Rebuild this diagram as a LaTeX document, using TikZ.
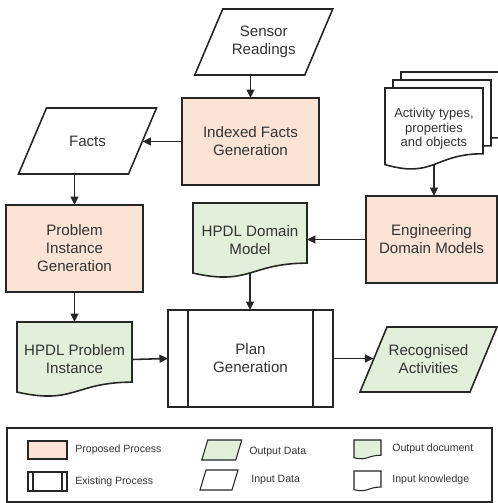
\documentclass[tikz,border=0pt]{standalone}
\usepackage{fontspec}
\setmainfont{Liberation Sans}
\usetikzlibrary{arrows.meta,calc,backgrounds}

\definecolor{procfill}{HTML}{FBE3D6}
\definecolor{datafill}{HTML}{E2EFDA}
\definecolor{inkline}{HTML}{262626}
\definecolor{inktext}{HTML}{333333}

\tikzset{
  base/.style={draw=inkline, line width=0.9pt, inner sep=1pt, outer sep=0pt,
    text=inktext, align=center, font=\fontsize{8.6}{10.2}\selectfont},
  proc/.style={base, rectangle, fill=procfill, minimum width=#1, minimum height=1.74cm},
  databox/.style={base, draw=none, rectangle, minimum width=2.2cm, minimum height=1.32cm},
  docnode/.style={base, draw=none, rectangle},
  legtext/.style={anchor=west, text=inktext, inner sep=0pt, font=\fontsize{6}{7}\selectfont},
  legsym/.style={draw=inkline, line width=0.6pt, inner sep=0pt, outer sep=0pt},
  flow/.style={draw=inkline, line width=0.9pt, -{Triangle[length=1.7mm,width=1.6mm]}},
}

% document outline with a wavy bottom, drawn round a node
\newcommand{\docshape}[3]{% node name, fill colour, line width
  \draw[draw=inkline, line width=#3, fill=#2] (#1.north west) -- (#1.north east)
    -- ($(#1.north east)!0.802!(#1.south east)$)
    .. controls ($(#1.north)!0.802!(#1.south)$) and ($(#1.north)!1.107!(#1.south)$)
    .. ($(#1.north west)!0.934!(#1.south west)$) -- cycle;}

% data parallelogram, slanted half the given amount either side of a node
\newcommand{\datashape}[4]{% node name, fill colour, slant, line width
  \draw[draw=inkline, line width=#4, fill=#2]
    ($(#1.south west)+(-#3/2,0)$) -- ($(#1.south east)+(-#3/2,0)$)
    -- ($(#1.north east)+(#3/2,0)$) -- ($(#1.north west)+(#3/2,0)$) -- cycle;}

\begin{document}
\begin{tikzpicture}
    \useasboundingbox (0,0) rectangle (9.96,-10.06);

    % Processes
    \node[proc=2.74cm] (indexed) at (5.01,-2.83) {Indexed Facts\\Generation};
    \node[proc=2.74cm] (problem) at (1.49,-4.97) {Problem\\Instance\\Generation};
    \node[proc=2.62cm] (engineering) at (8.63,-4.79) {Engineering\\Domain Models};

    % Existing process
    \node[base, fill=white, minimum width=3.3cm, minimum height=1.94cm] (plan) at (5.01,-7.17) {Plan\\Generation};
    \draw[draw=inkline, line width=0.9pt] ($(plan.north west)+(0.4,0)$) -- ($(plan.south west)+(0.4,0)$);
    \draw[draw=inkline, line width=0.9pt] ($(plan.north east)+(-0.4,0)$) -- ($(plan.south east)+(-0.4,0)$);

    % Data
    \node[databox] (sensor) at (5.275,-0.84) {Sensor\\Readings};
    \node[databox] (facts) at (1.75,-2.82) {Facts};
    \node[databox, minimum height=1.3cm] (recog) at (8.57,-7.19) {Recognised\\Activities};

    % Documents
    \node[docnode, minimum width=2.28cm, minimum height=1.5cm] (domain) at (5.0,-4.81) {HPDL Domain\\Model};
    \node[docnode, minimum width=2.3cm, minimum height=1.5cm] (probdoc) at (1.49,-7.19) {HPDL Problem\\Instance};
    \node[docnode, minimum width=1.96cm, minimum height=1.64cm] (act3) at (9.0,-2.26) {};
    \node[docnode, minimum width=1.96cm, minimum height=1.64cm] (act2) at (8.84,-2.42) {};
    \node[docnode, minimum width=1.96cm, minimum height=1.64cm,
      font=\fontsize{7.4}{8.2}\selectfont] (act1) at (8.68,-2.58) {Activity types,\\properties\\and objects};
    \begin{scope}[on background layer]
        \datashape{sensor}{white}{0.56}{0.9pt}
        \datashape{facts}{white}{0.56}{0.9pt}
        \datashape{recog}{datafill}{0.54}{0.9pt}
        \docshape{domain}{datafill}{0.9pt}
        \docshape{probdoc}{datafill}{0.9pt}
        \docshape{act3}{white}{0.9pt}
        \docshape{act2}{white}{0.9pt}
        \docshape{act1}{white}{0.9pt}
    \end{scope}
    \coordinate (domain-tip) at ($(domain.north)!0.933!(domain.south)$);
    \coordinate (act-tip) at ($(act1.north)!0.933!(act1.south)$);

    % Connectors
    \draw[flow] (indexed.north |- sensor.south) -- (indexed.north);
    \draw[flow] (indexed.west) -- (indexed.west -| facts.east);
    \draw[flow] (problem.north |- facts.south) -- (problem.north);
    \draw[flow] (problem.south) -- (probdoc.north);
    \draw[flow] (probdoc.east) -- (plan.west);
    \draw[flow] (domain-tip) -- (domain-tip |- plan.north);
    \draw[flow] (engineering.west) -- (engineering.west -| domain.east);
    \draw[flow] (act-tip) -- (act-tip |- engineering.north);
    \draw[flow] (plan.east) -- (plan.east -| recog.west);

    % Legend
    \node[draw=inkline, line width=0.9pt, inner sep=0pt, minimum width=9.7cm, minimum height=1.48cm] (legend) at (4.99,-9.3) {};

    \node[legsym, fill=procfill, minimum width=0.78cm, minimum height=0.36cm] (lproposed) at (0.95,-9.0) {};
    \node[legtext] (tproposed) at (1.5,-9.0) {Proposed Process};

    \node[legsym, fill=white, minimum width=0.78cm, minimum height=0.38cm] (lexisting) at (0.95,-9.63) {};
    \draw[legsym] ($(lexisting.north west)+(0.1,0)$) -- ($(lexisting.south west)+(0.1,0)$);
    \draw[legsym] ($(lexisting.north east)+(-0.1,0)$) -- ($(lexisting.south east)+(-0.1,0)$);
    \node[legtext] (texisting) at (1.5,-9.64) {Existing Process};

    \node[legsym, draw=none, minimum width=0.68cm, minimum height=0.4cm] (loutdata) at (4.435,-9.0) {};
    \datashape{loutdata}{datafill}{0.12}{0.6pt}
    \node[legtext] (toutdata) at (4.98,-9.04) {Output Data};

    \node[legsym, draw=none, minimum width=0.64cm, minimum height=0.4cm] (lindata) at (4.38,-9.6) {};
    \datashape{lindata}{white}{0.12}{0.6pt}
    \node[legtext] (tindata) at (5.02,-9.6) {Input Data};

    \node[legsym, draw=none, minimum width=0.54cm, minimum height=0.38cm] (loutdoc) at (7.35,-8.99) {};
    \node[legsym, draw=none, minimum width=0.54cm, minimum height=0.4cm] (linknow) at (7.35,-9.62) {};
    \docshape{loutdoc}{datafill}{0.6pt}
    \docshape{linknow}{white}{0.6pt}
    \node[legtext] (toutdoc) at (7.84,-8.98) {Output document};
    \node[legtext] (tinknow) at (7.84,-9.6) {Input knowledge};

\end{tikzpicture}
\end{document}
